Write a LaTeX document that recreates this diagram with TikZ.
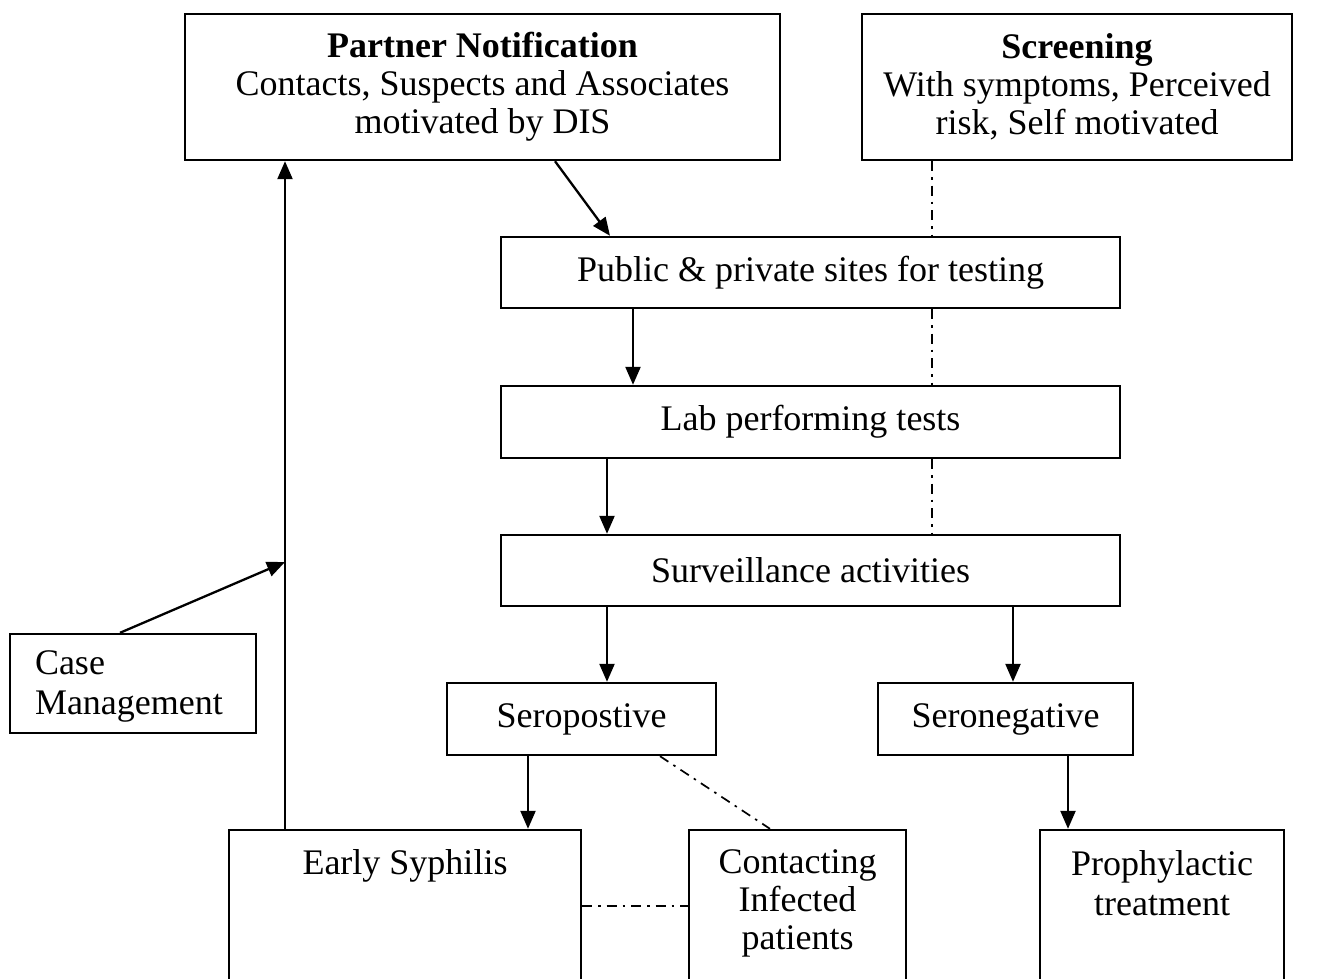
\documentclass[tikz,border=0pt]{standalone}
\usepackage{fontspec}
\setmainfont{Liberation Serif}
\usetikzlibrary{arrows.meta}
\begin{document}
\begin{tikzpicture}[x=1pt,y=-1pt,
  box/.style={draw,line width=2.4pt,rectangle,inner sep=0pt,align=center,
    font=\fontsize{36}{38}\selectfont},
  arr/.style={line width=2.3pt,-{Triangle[length=18pt,width=15pt]}},
  dd/.style={line width=1.7pt,dash pattern=on 10pt off 6pt on 2.5pt off 6pt},
  toplab/.style={anchor=north,align=center,inner sep=0pt,font=\fontsize{36}{38}\selectfont}]
\useasboundingbox (0,0) rectangle (1328,979);
\clip (0,0) rectangle (1328,979);
\node[box,minimum width=595pt,minimum height=146pt] (pn) at (482.5,87)
  {\textbf{Partner Notification}\\Contacts, Suspects and Associates\\motivated by DIS};
\node[box,minimum width=430pt,minimum height=146pt] (scr) at (1077,87)
  {\textbf{Screening}\\With symptoms, Perceived\\risk, Self motivated};
\node[box,minimum width=619pt,minimum height=71pt] (pub) at (810.5,272.5)
  {Public \& private sites for testing};
\node[box,minimum width=619pt,minimum height=72pt] (lab) at (810.5,422)
  {Lab performing tests};
\node[box,minimum width=619pt,minimum height=71pt] (surv) at (810.5,570.5)
  {Surveillance activities};
\node[box,minimum width=269pt,minimum height=72pt] (pos) at (581.5,719)
  {Seropostive};
\node[box,minimum width=255pt,minimum height=72pt] (neg) at (1005.5,719)
  {Seronegative};
\node[box,minimum width=352pt,minimum height=200pt] (early) at (405,930) {};
\node[toplab] at ([yshift=-21pt]early.north) {Early Syphilis};
\node[box,minimum width=217pt,minimum height=200pt] (contact) at (797.5,930) {};
\node[toplab] at ([yshift=-21pt]contact.north) {Contacting\\Infected\\patients};
\node[box,minimum width=244pt,minimum height=200pt] (proph) at (1162,930) {};
\node[toplab,font=\fontsize{36}{40}\selectfont] at ([yshift=-22pt]proph.north) {Prophylactic\\treatment};
\node[box,minimum width=246pt,minimum height=99pt] (cm) at (133,683.5) {};
\node[anchor=west,align=left,inner sep=0pt,font=\fontsize{36}{40}\selectfont]
  at ([xshift=26pt,yshift=-3pt]cm.west) {Case\\Management};
\coordinate (j) at (285,562);
% connectors
\draw[arr] (555,0 |- pn.south) -- (610,0 |- pub.north);
\draw[dd] (932,0 |- scr.south) -- (932,0 |- pub.north);
\draw[dd] (932,0 |- pub.south) -- (932,0 |- lab.north);
\draw[dd] (932,0 |- lab.south) -- (932,0 |- surv.north);
\draw[arr] (633,0 |- pub.south) -- (633,0 |- lab.north);
\draw[arr] (607,0 |- lab.south) -- (607,0 |- surv.north);
\draw[arr] (607,0 |- surv.south) -- (607,0 |- pos.north);
\draw[arr] (1013,0 |- surv.south) -- (1013,0 |- neg.north);
\draw[arr] (528,0 |- pos.south) -- (528,0 |- early.north);
\draw[arr] (1068,0 |- neg.south) -- (1068,0 |- proph.north);
\draw[dd] (660,0 |- pos.south) -- (770,0 |- contact.north);
\draw[dd] (early.east |- 0,906) -- (contact.west |- 0,906);
\draw[arr] (285,0 |- early.north) -- (285,0 |- pn.south);
\draw[arr] (120,0 |- cm.north) -- (j);
\end{tikzpicture}
\end{document}
